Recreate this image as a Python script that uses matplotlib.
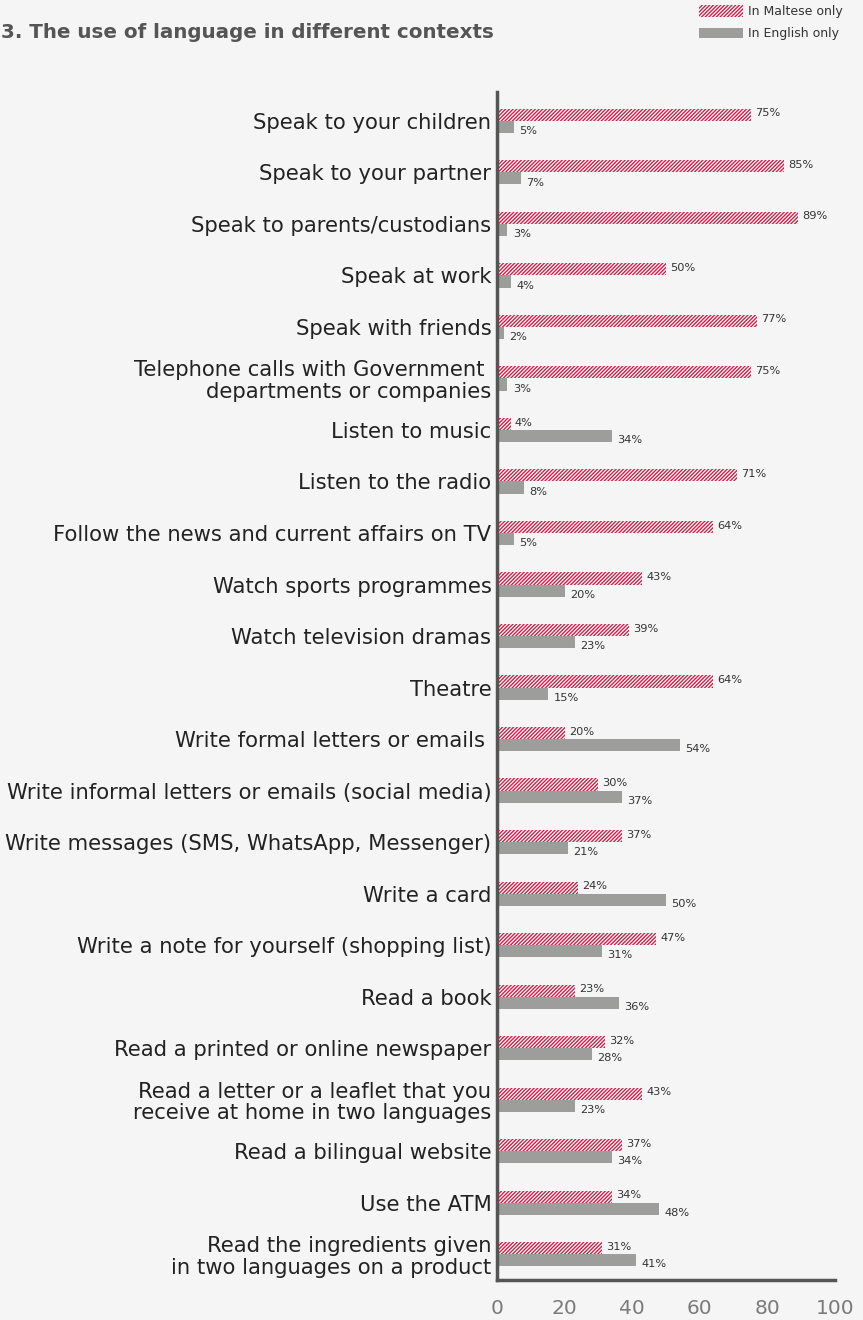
import numpy as np
import matplotlib
matplotlib.use("Agg")
import matplotlib.pyplot as plt
from matplotlib.patches import Rectangle

# data
categories = [
    "Speak to your children",
    "Speak to your partner",
    "Speak to parents/custodians",
    "Speak at work",
    "Speak with friends",
    "Telephone calls with Government \ndepartments or companies",
    "Listen to music",
    "Listen to the radio",
    "Follow the news and current affairs on TV",
    "Watch sports programmes",
    "Watch television dramas",
    "Theatre",
    "Write formal letters or emails ",
    "Write informal letters or emails (social media)",
    "Write messages (SMS, WhatsApp, Messenger)",
    "Write a card",
    "Write a note for yourself (shopping list)",
    "Read a book",
    "Read a printed or online newspaper",
    "Read a letter or a leaflet that you\nreceive at home in two languages",
    "Read a bilingual website",
    "Use the ATM",
    "Read the ingredients given\nin two languages on a product",
]
maltese = [75, 85, 89, 50, 77, 75, 4, 71, 64, 43, 39, 64, 20, 30, 37, 24, 47, 23, 32, 43, 37, 34, 31]
english = [5, 7, 3, 4, 2, 3, 34, 8, 5, 20, 23, 15, 54, 37, 21, 50, 31, 36, 28, 23, 34, 48, 41]
x_ticks = [0, 20, 40, 60, 80, 100]

bg = "#f5f5f5"
red = "#d8163f"
grey = "#9d9d9c"

plt.rcParams["hatch.linewidth"] = 0.95
plt.rcParams["font.family"] = ["DejaVu Sans"]

W, H = 863, 1320
fig = plt.figure(figsize=(W / 100, H / 100), dpi=100, facecolor=bg)
ax = fig.add_axes([497 / W, 1 - 1280 / H, (835 - 497) / W, (1280 - 92) / H])
ax.set_facecolor(bg)

y = np.arange(len(categories))
h = 0.235

ax.barh(y - h / 2, maltese, height=h, facecolor="white", edgecolor=red,
        hatch="/////////", linewidth=0)
ax.barh(y + h / 2, english, height=h, color=grey, linewidth=0)

for i in range(len(categories)):
    ax.annotate(f"{maltese[i]}%", (maltese[i], y[i] - h / 2), xytext=(3, 1),
                textcoords="offset points", va="center", ha="left",
                fontsize=8.2, color="#333333")
    ax.annotate(f"{english[i]}%", (english[i], y[i] + h / 2), xytext=(4, -3),
                textcoords="offset points", va="center", ha="left",
                fontsize=8.2, color="#333333")

ax.set_xlim(0, 100)
ax.set_ylim(len(categories) - 0.5, -0.56)
ax.set_yticks(y)
ax.set_yticklabels(categories, fontsize=15.2, color="#222222", linespacing=1.08)
ax.set_xticks(x_ticks)
ax.set_xticklabels([str(t) for t in x_ticks], fontsize=14.5, color="#7a7a7a")
ax.tick_params(axis="both", length=0)
ax.tick_params(axis="y", pad=4)
ax.tick_params(axis="x", pad=14)

for s in ["top", "right"]:
    ax.spines[s].set_visible(False)
for s in ["left", "bottom"]:
    ax.spines[s].set_color("#555555")
    ax.spines[s].set_linewidth(2.5)

# title
fig.text(1 / W, 1 - 32 / H, "3. The use of language in different contexts",
         fontsize=14.3, fontweight="bold", color="#555555", va="center", ha="left")

# legend
fig.patches.append(Rectangle((699 / W, 1 - 16.5 / H), 44 / W, 11.5 / H,
                             transform=fig.transFigure, facecolor="white",
                             edgecolor=red, hatch="/////////", linewidth=0))
fig.patches.append(Rectangle((699 / W, 1 - 37.5 / H), 44 / W, 9 / H,
                             transform=fig.transFigure, facecolor=grey, linewidth=0))
fig.text(748 / W, 1 - 11 / H, "In Maltese only", fontsize=9, color="#333333", va="center")
fig.text(748 / W, 1 - 33 / H, "In English only", fontsize=9, color="#333333", va="center")

fig.savefig("out.png", dpi=100, facecolor=bg)
